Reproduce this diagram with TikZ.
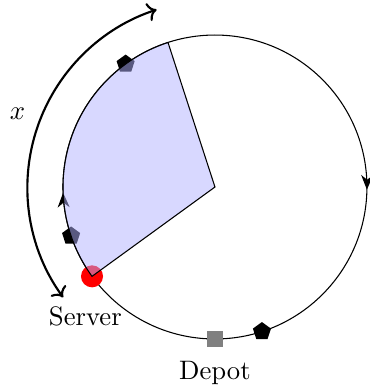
\documentclass[tikz,border=0pt]{standalone}
\usepackage{tikz}
\usetikzlibrary{arrows.meta, positioning, shapes.geometric, decorations.markings}

\begin{document}
\begin{tikzpicture}[
  customer/.style={regular polygon, regular polygon sides=5, fill=black, inner sep=0pt, minimum size=0.25cm},
  depot/.style={rectangle, fill=gray, inner sep=0pt, minimum size=0.22cm},
  server/.style={circle, fill=red, inner sep=0pt, minimum size=0.29cm},
  window/.style={draw=black, fill=blue!30, fill opacity=0.5},
  ring/.style={postaction={decorate}, decoration={markings,
      mark=at position 0.2528 with {\arrow{Stealth[length=5.5pt, width=4.5pt]}},
      mark=at position 0.744 with {\arrow{Stealth[length=5.5pt, width=4.5pt]}}}}
]
\useasboundingbox (-2.829,-2.632) rectangle (2.039,2.461);

\coordinate (center) at (0,0);
\draw[ring] (90:2) arc[start angle=90, end angle=-270, radius=2];

\node[customer] (c1) at (126:2) {};
\node[customer] (c2) at (198.8:2) {};
\node[server] (srv) at (216:2) {};

% service window
\draw[window] (center) -- (216:2) arc[start angle=216, end angle=108, radius=2] -- cycle;

\node[customer] (c3) at (-72:2) {};
\node[depot] (dep) at (-90:2) {};

\node[below=0.12cm of srv, xshift=-2.5pt] (srvlabel) {Server};
\node[below=0.05cm of dep] (deplabel) {Depot};

\coordinate (xstart) at (216:2.47);
\coordinate (xend) at (108:2.45);
\draw[<->, thick] (xstart) arc[start angle=216, end angle=108, radius=2.46];
\node (xlabel) at (-2.6,0.97) {$x$};
\end{tikzpicture}
\end{document}
